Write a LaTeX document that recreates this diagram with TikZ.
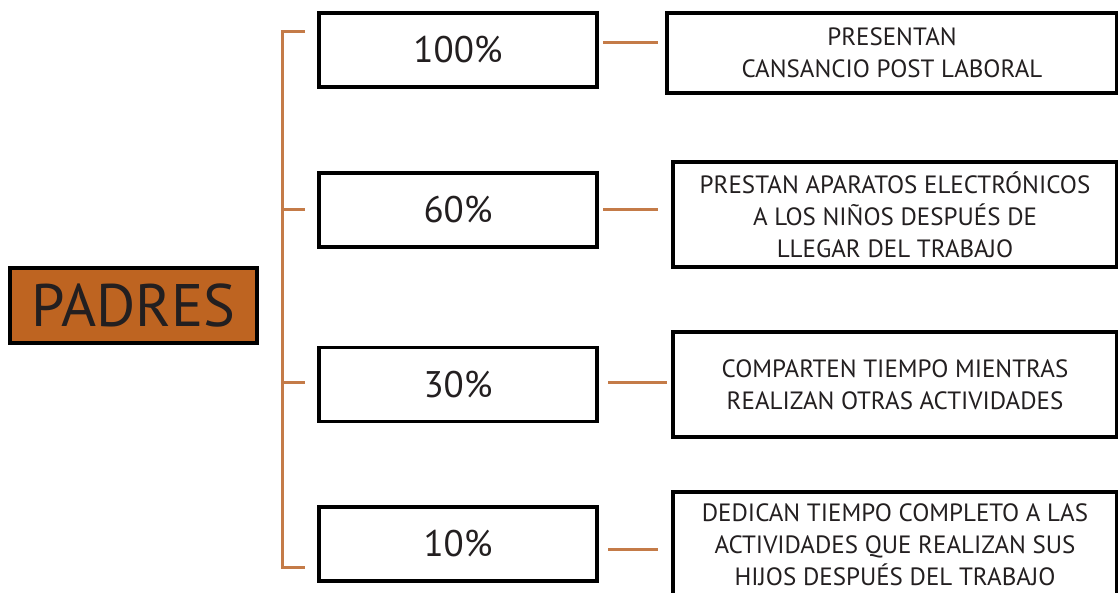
\documentclass[tikz,border=0pt]{standalone}
\usepackage{fontspec}
\setmainfont{PT Sans}
\definecolor{lineor}{HTML}{C47B48}
\definecolor{fillor}{HTML}{BE6421}
\definecolor{txt}{HTML}{231F20}
\begin{document}
\begin{tikzpicture}[x=1pt,y=-1pt,
  pct/.style={draw=black,line width=3.2pt,fill=white,minimum width=278pt,minimum height=74pt,inner sep=0pt,text=txt,font=\fontsize{37}{44}\selectfont},
  desc/.style={draw=black,line width=3.2pt,fill=white,minimum width=444pt,inner sep=0pt,align=center,text=txt,font=\fontsize{25}{32}\selectfont},
  link/.style={draw=lineor,line width=3pt}]
\useasboundingbox (0,0) rectangle (1118,593);
\clip (0,0) rectangle (1118,593);
\fill[white] (0,0) rectangle (1118,593);
% main node
\node[draw=black,line width=3.2pt,fill=fillor,minimum width=247pt,minimum height=75pt,inner sep=0pt,text=txt,font=\fontsize{60}{70}\selectfont] (padres) at (133.5,305.5) {PADRES};
% percentage boxes
\node[pct] (p1) at (458,50) {100\%};
\node[pct] (p2) at (458,210) {60\%};
\node[pct] (p3) at (458,384.5) {30\%};
\node[pct] (p4) at (458,544) {10\%};
% description boxes
\node[desc,minimum width=450pt,minimum height=80pt] (d1) at (892,53) {PRESENTAN\\CANSANCIO POST LABORAL};
\node[desc,minimum height=105pt] (d2) at (895,214.5) {PRESTAN APARATOS ELECTRÓNICOS\\A LOS NIÑOS DESPUÉS DE\\LLEGAR DEL TRABAJO};
\node[desc,minimum height=105pt] (d3) at (895,384.5) {COMPARTEN TIEMPO MIENTRAS\\REALIZAN OTRAS ACTIVIDADES};
\node[desc,minimum height=106pt] (d4) at (895,545) {DEDICAN TIEMPO COMPLETO A LAS\\ACTIVIDADES QUE REALIZAN SUS\\HIJOS DESPUÉS DEL TRABAJO};
% bracket
\coordinate (bt) at (282,32);
\coordinate (bb) at (282,567);
\coordinate (t1) at (305,32);
\coordinate (t2) at (305,210);
\coordinate (t3) at (305,382);
\coordinate (t4) at (305,567);
\draw[link] (t1) -- (bt) -- (bb) -- (t4);
\draw[link] (282,210) -- (t2);
\draw[link] (282,382) -- (t3);
% right connectors
\coordinate (r1a) at (603,43); \coordinate (r1b) at (658,43);
\coordinate (r2a) at (603,210); \coordinate (r2b) at (658,210);
\coordinate (r3a) at (608,382); \coordinate (r3b) at (667,382);
\coordinate (r4a) at (608,549); \coordinate (r4b) at (658,549);
\draw[link] (r1a) -- (r1b);
\draw[link] (r2a) -- (r2b);
\draw[link] (r3a) -- (r3b);
\draw[link] (r4a) -- (r4b);
\end{tikzpicture}
\end{document}
